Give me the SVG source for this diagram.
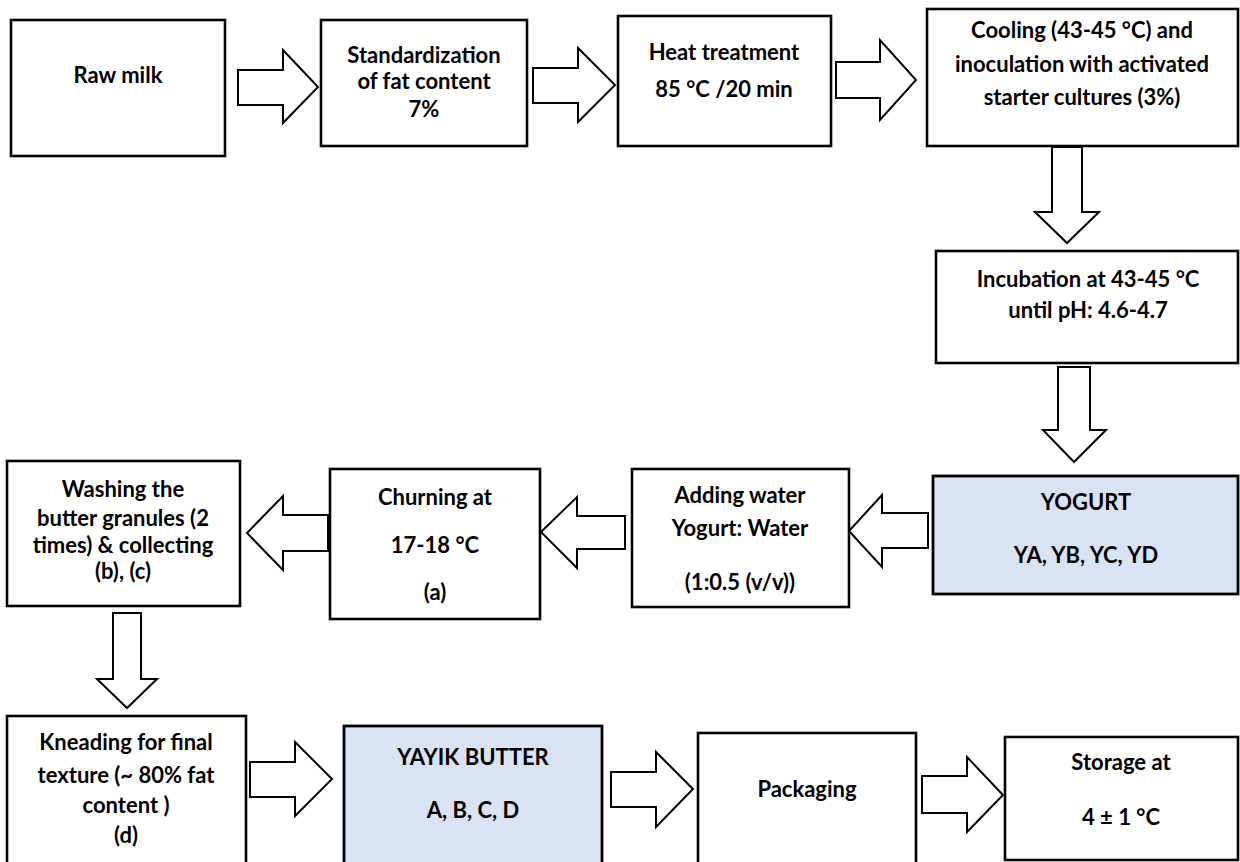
<svg xmlns="http://www.w3.org/2000/svg" width="1240" height="862" viewBox="0 0 1240 862">
<style>
.box{fill:#ffffff;stroke:#000000;stroke-width:2.6}
.hl{fill:#dae3f3;stroke:#000000;stroke-width:2.8}
.arr{fill:#ffffff;stroke:#000000;stroke-width:2;stroke-linejoin:miter}
text{font-family:Lato,"Liberation Sans",sans-serif;font-weight:bold;font-size:22px;fill:#000000;text-anchor:middle}
</style>
<rect x="0" y="0" width="1240" height="862" fill="#ffffff"/>
<g id="connectors">
<polygon class="arr" points="238,70 283,70 283,50 318,87 283,123 283,105 238,105"/>
<polygon class="arr" points="533,68 578,68 578,48 615,85 578,122 578,103 533,103"/>
<polygon class="arr" points="836,62 880,62 880,40 916,80 880,120 880,98 836,98"/>
<polygon class="arr" points="1052,147 1082,147 1082,212 1099,212 1067,243 1035,212 1052,212"/>
<polygon class="arr" points="1058,367 1090,367 1090,430 1106,430 1074,462 1043,430 1058,430"/>
<polygon class="arr" points="928,513 882,513 882,495 849,531 882,567 882,548 928,548"/>
<polygon class="arr" points="625,516 577,516 577,497 541,532 577,568 577,549 625,549"/>
<polygon class="arr" points="328,515 283,515 283,496 247,533 283,570 283,551 328,551"/>
<polygon class="arr" points="113,613 141,613 141,679 157,679 127,708 97,679 113,679"/>
<polygon class="arr" points="250,762 295,762 295,742 332,779 295,816 295,797 250,797"/>
<polygon class="arr" points="611,772 656,772 656,752 693,789 656,827 656,807 611,807"/>
<polygon class="arr" points="922,776 967,776 967,757 1003,795 967,832 967,813 922,813"/>
</g>
<g id="raw-milk"><rect class="box" x="11" y="20" width="214" height="136"/><text x="118" y="83">Raw milk</text></g>
<g id="standardization"><rect class="box" x="321" y="20" width="206" height="126"/><text x="424" y="63">Standardization</text><text x="424" y="89">of fat content</text><text x="424" y="117">7%</text></g>
<g id="heat"><rect class="box" x="618" y="16" width="213" height="130"/><text x="724" y="60">Heat treatment</text><text x="724" y="97">85 °C /20 min</text></g>
<g id="cooling"><rect class="box" x="927" y="9" width="311" height="137"/><text x="1082" y="38">Cooling (43-45 °C) and</text><text x="1082" y="72">inoculation with activated</text><text x="1082" y="105">starter cultures (3%)</text></g>
<g id="incubation"><rect class="box" x="936" y="251" width="302" height="112"/><text x="1088" y="287">Incubation at 43-45 °C</text><text x="1088" y="318">until pH: 4.6-4.7</text></g>
<g id="yogurt"><rect class="hl" x="933" y="476" width="305" height="118"/><text x="1086" y="510">YOGURT</text><text x="1086" y="563">YA, YB, YC, YD</text></g>
<g id="adding-water"><rect class="box" x="632" y="469" width="217" height="138"/><text x="740" y="503">Adding water</text><text x="740" y="536">Yogurt: Water</text><text x="740" y="590">(1:0.5 (v/v))</text></g>
<g id="churning"><rect class="box" x="330" y="469" width="210" height="150"/><text x="435" y="505">Churning at</text><text x="435" y="553">17-18 °C</text><text x="435" y="600">(a)</text></g>
<g id="washing"><rect class="box" x="7" y="461" width="233" height="145"/><text x="123" y="497">Washing the</text><text x="123" y="526">butter granules (2</text><text x="123" y="553">times) &amp; collecting</text><text x="123" y="579">(b), (c)</text></g>
<g id="kneading"><rect class="box" x="7" y="716" width="239" height="160"/><text x="126" y="750">Kneading for final</text><text x="126" y="783">texture (~ 80% fat</text><text x="126" y="813">content )</text><text x="126" y="843">(d)</text></g>
<g id="yayik-butter"><rect class="hl" x="344" y="726" width="258" height="150"/><text x="473" y="765">YAYIK BUTTER</text><text x="473" y="818">A, B, C, D</text></g>
<g id="packaging"><rect class="box" x="698" y="733" width="218" height="140"/><text x="807" y="797">Packaging</text></g>
<g id="storage"><rect class="box" x="1005" y="737" width="233" height="123"/><text x="1121" y="770">Storage at</text><text x="1121" y="825">4 ± 1 °C</text></g>
</svg>
